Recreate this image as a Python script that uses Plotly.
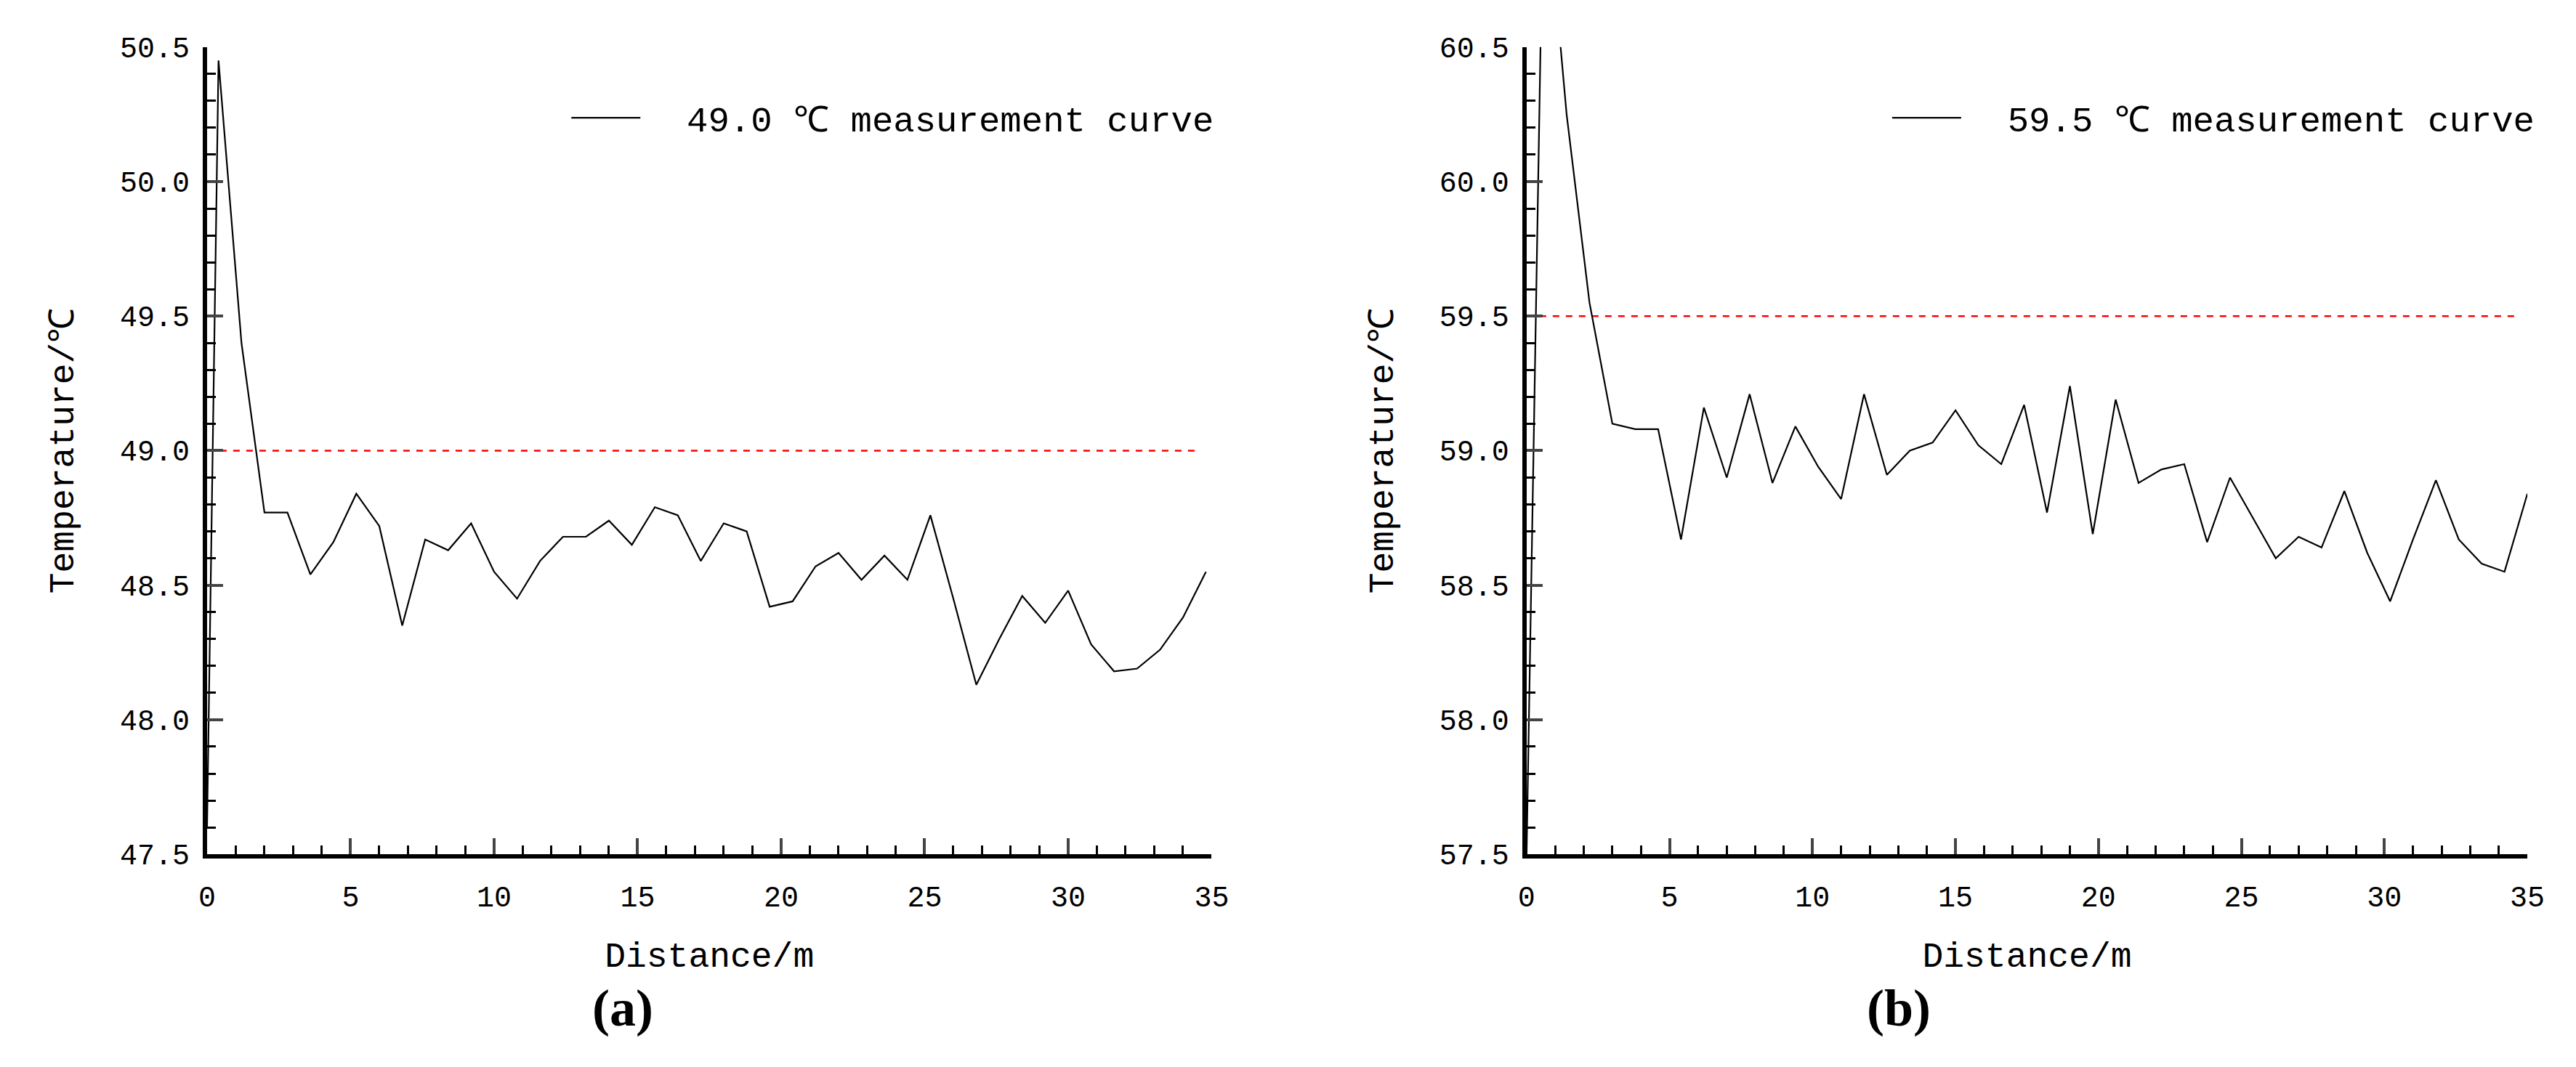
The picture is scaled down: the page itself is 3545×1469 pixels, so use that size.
import plotly.graph_objects as go

dist_a = [0.0] + [round(0.4 + 0.8 * k, 2) for k in range(44)]
temp_a = [47.6, 50.45, 49.4, 48.77, 48.77, 48.54, 48.66, 48.84, 48.72, 48.35, 48.67, 48.63,
          48.73, 48.55, 48.45, 48.59, 48.68, 48.68, 48.74, 48.65, 48.79, 48.76, 48.59,
          48.73, 48.70, 48.42, 48.44, 48.57, 48.62, 48.52, 48.61, 48.52, 48.76, 48.45,
          48.13, 48.30, 48.46, 48.36, 48.48, 48.28, 48.18, 48.19, 48.26, 48.38, 48.55]
dist_b = [0.0] + [round(0.6 + 0.8 * k, 2) for k in range(44)]
temp_b = [57.5, 61.2, 60.25, 59.55, 59.1, 59.08, 59.08, 58.67, 59.16, 58.9, 59.21, 58.88, 59.09,
          58.94, 58.82, 59.21, 58.91, 59.0, 59.03, 59.15, 59.02, 58.95, 59.17, 58.77,
          59.24, 58.69, 59.19, 58.88, 58.93, 58.95, 58.66, 58.9, 58.75, 58.6, 58.68,
          58.64, 58.85, 58.62, 58.44, 58.67, 58.89, 58.67, 58.58, 58.55, 58.84]
ref_a = 49.0
ref_b = 59.5
ref_x = [0, 34.6]
xticks = [0, 5, 10, 15, 20, 25, 30, 35]

FONT = "Liberation Mono"
fig = go.Figure()
fig.add_trace(go.Scatter(x=ref_x, y=[ref_a, ref_a], mode="lines", line=dict(color="red", width=2.5, dash="dash"),
                         showlegend=False, xaxis="x", yaxis="y"))
fig.add_trace(go.Scatter(x=dist_a, y=temp_a, mode="lines", line=dict(color="black", width=2.2),
                         name="&nbsp;&nbsp;49.0 ℃ measurement curve", legend="legend", xaxis="x", yaxis="y"))
fig.add_trace(go.Scatter(x=ref_x, y=[ref_b, ref_b], mode="lines", line=dict(color="red", width=2.5, dash="dash"),
                         showlegend=False, xaxis="x2", yaxis="y2"))
fig.add_trace(go.Scatter(x=dist_b, y=temp_b, mode="lines", line=dict(color="black", width=2.2),
                         name="&nbsp;&nbsp;59.5 ℃ measurement curve", legend="legend2", xaxis="x2", yaxis="y2"))

def xa(dom, anchor):
    return dict(domain=dom, anchor=anchor, range=[0, 35], tickvals=xticks, showline=True, linewidth=6,
                linecolor="black", ticks="inside", ticklen=22, tickwidth=4, showgrid=False, zeroline=False,
                minor=dict(dtick=1, ticks="inside", ticklen=12, tickwidth=3, tickcolor="black"),
                tickfont=dict(family=FONT, size=40, color="black"), ticklabelstandoff=18,
                title=dict(text="Distance/m", font=dict(family=FONT, size=48, color="black"), standoff=40))

def ya(rng, anchor):
    return dict(domain=[0.193, 0.9735], anchor=anchor, range=rng, dtick=0.5, tickformat=".1f", showline=True,
                linewidth=6, linecolor="black", ticks="inside", ticklen=22, tickwidth=4, showgrid=False,
                zeroline=False, minor=dict(dtick=0.1, ticks="inside", ticklen=12, tickwidth=3, tickcolor="black"),
                tickfont=dict(family=FONT, size=40, color="black"), ticklabelstandoff=10,
                title=dict(text="Temperature/℃", font=dict(family=FONT, size=48, color="black"), standoff=50))

fig.update_layout(
    width=3545, height=1469, margin=dict(l=0, r=0, t=0, b=0),
    paper_bgcolor="white", plot_bgcolor="white",
    xaxis=xa([0.0755, 0.4695], "y"), yaxis=ya([47.5, 50.5], "x"),
    xaxis2=xa([0.593, 0.9855], "y2"), yaxis2=ya([57.5, 60.5], "x2"),
    legend=dict(x=0.472, y=0.905, xanchor="right", yanchor="middle", bgcolor="rgba(0,0,0,0)",
                font=dict(family=FONT, size=49, color="black"), itemwidth=95),
    legend2=dict(x=0.99, y=0.905, xanchor="right", yanchor="middle", bgcolor="rgba(0,0,0,0)",
                 font=dict(family=FONT, size=49, color="black"), itemwidth=95),
    annotations=[
        dict(text="<b>(a)</b>", x=0.226, y=0.044, xref="paper", yref="paper", yanchor="middle", showarrow=False,
             font=dict(family="Liberation Serif", size=72, color="black")),
        dict(text="<b>(b)</b>", x=0.752, y=0.044, xref="paper", yref="paper", yanchor="middle", showarrow=False,
             font=dict(family="Liberation Serif", size=72, color="black")),
    ],
)
fig.write_html("out.html")
